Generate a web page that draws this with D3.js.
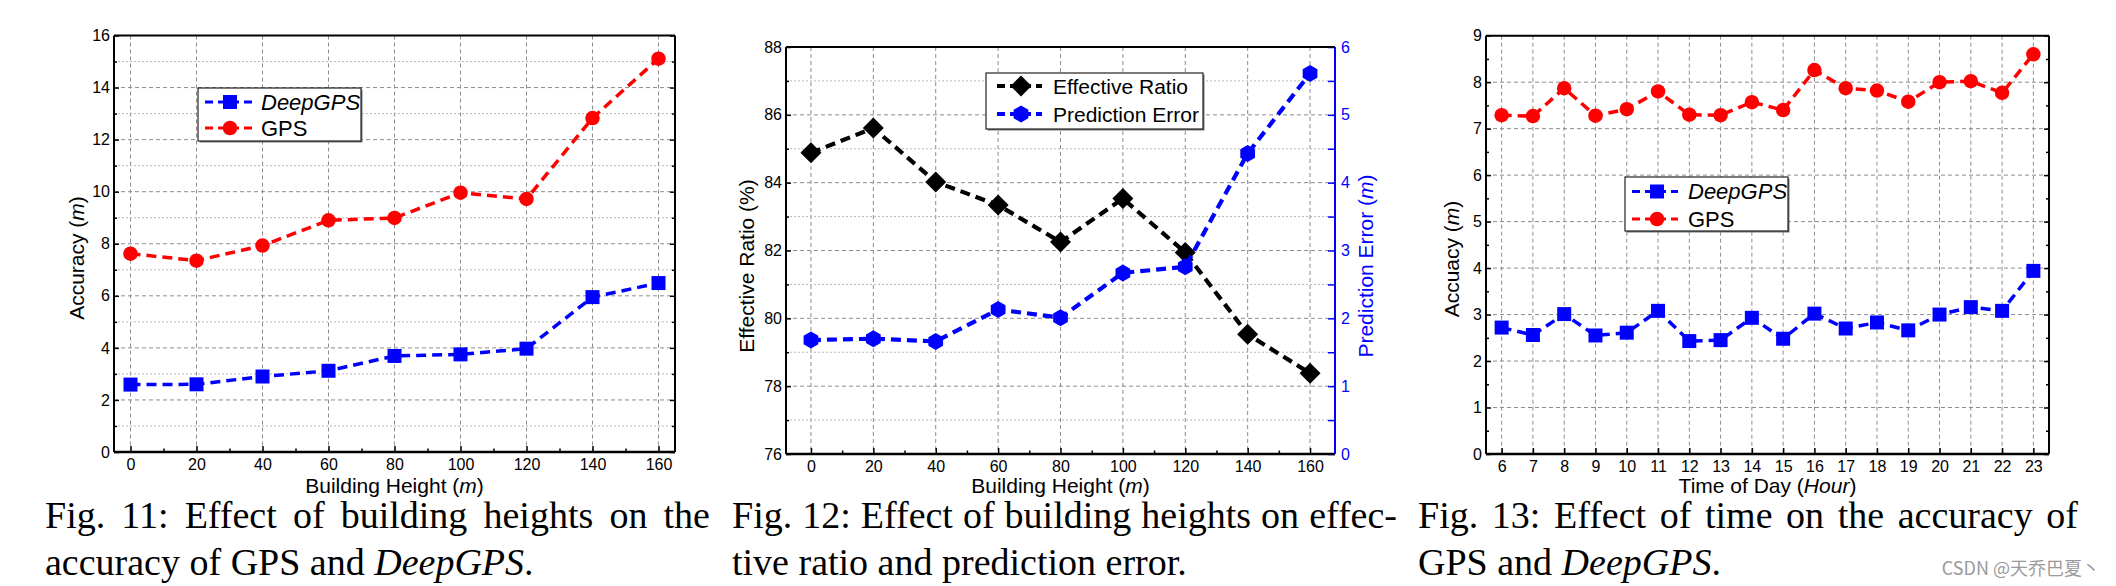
<!DOCTYPE html>
<html><head><meta charset="utf-8">
<script src="https://cdn.jsdelivr.net/npm/d3@7"></script>
<style>body{margin:0;background:#fff}</style>
</head><body>
<svg id="c" width="2116" height="586" xmlns="http://www.w3.org/2000/svg"></svg>
<script>
// ---------- data ----------
const heights = [0, 20, 40, 60, 80, 100, 120, 140, 160];
const heightMinor = [10, 30, 50, 70, 90, 110, 130, 150];
const fig11DeepGPS = [2.59, 2.60, 2.90, 3.12, 3.69, 3.75, 3.97, 5.95, 6.49];
const fig11GPS = [7.62, 7.35, 7.93, 8.90, 8.99, 9.96, 9.72, 12.83, 15.11];
const fig11YTicks = [0, 2, 4, 6, 8, 10, 12, 14, 16];
const fig11YMinor = [1, 3, 5, 7, 9, 11, 13, 15];

const fig12Ratio = [84.88, 85.61, 84.02, 83.34, 82.25, 83.53, 81.94, 79.53, 78.38];
const fig12Error = [1.68, 1.70, 1.66, 2.13, 2.01, 2.67, 2.76, 4.43, 5.61];
const fig12YTicks = [76, 78, 80, 82, 84, 86, 88];
const fig12YMinor = [77, 79, 81, 83, 85, 87];
const fig12Y2Ticks = [0, 1, 2, 3, 4, 5, 6];
const fig12Y2Minor = [0.5, 1.5, 2.5, 3.5, 4.5, 5.5];

const hours = [6, 7, 8, 9, 10, 11, 12, 13, 14, 15, 16, 17, 18, 19, 20, 21, 22, 23];
const fig13GPS = [7.29, 7.27, 7.87, 7.28, 7.42, 7.80, 7.30, 7.29, 7.57, 7.40, 8.26, 7.87, 7.82, 7.58, 8.00, 8.02, 7.77, 8.60];
const fig13DeepGPS = [2.72, 2.56, 3.01, 2.55, 2.61, 3.08, 2.43, 2.45, 2.93, 2.48, 3.02, 2.70, 2.83, 2.66, 3.00, 3.16, 3.08, 3.94];
const fig13YTicks = [0, 1, 2, 3, 4, 5, 6, 7, 8, 9];
const fig13YMinor = [0.5, 1.5, 2.5, 3.5, 4.5, 5.5, 6.5, 7.5, 8.5];

// ---------- style ----------
const SANS = "'Liberation Sans', Arial, Helvetica, sans-serif";
const SERIF = "'Liberation Serif', 'Times New Roman', Times, serif";
const BLUE = "#0000ff", RED = "#ff0000", BLACK = "#000000";
const fmt = d3.format("d");

const svg = d3.select("#c");

// marker shapes
function markerPath(type, s) {
  if (type === "square") { const h = s / 2; return `M${-h},${-h}H${h}V${h}H${-h}Z`; }
  if (type === "diamond") { const h = s / 2; return `M0,${-h}L${h},0L0,${h}L${-h},0Z`; }
  if (type === "hexagon") {
    const r = s / 2; let p = "";
    for (let i = 0; i < 6; i++) { const a = Math.PI / 180 * (60 * i - 90); p += (i ? "L" : "M") + (r * Math.cos(a)).toFixed(2) + "," + (r * Math.sin(a)).toFixed(2); }
    return p + "Z";
  }
  const r = s / 2; return `M${-r},0A${r},${r} 0 1,0 ${r},0A${r},${r} 0 1,0 ${-r},0Z`;
}
const markerSize = { square: 14, circle: 14.5, diamond: 21, hexagon: 17 };

function drawGrid(g, x, y, cfg, yTicks, yMinor) {
  const grid = g.append("g");
  grid.selectAll(".vg").data(cfg.xMajor).join("line")
    .attr("x1", d => x(d)).attr("x2", d => x(d)).attr("y1", cfg.top).attr("y2", cfg.bottom)
    .attr("stroke", "#8c8c8c").attr("stroke-width", 1).attr("stroke-dasharray", "4,3");
  grid.selectAll(".hg").data(yTicks).join("line")
    .attr("x1", cfg.left).attr("x2", cfg.right).attr("y1", d => y(d)).attr("y2", d => y(d))
    .attr("stroke", "#8c8c8c").attr("stroke-width", 1).attr("stroke-dasharray", "4,3");
  if (cfg.minorGrid) {
    grid.selectAll(".hm").data(yMinor).join("line")
      .attr("x1", cfg.left).attr("x2", cfg.right).attr("y1", d => y(d)).attr("y2", d => y(d))
      .attr("stroke", "#b8b8b8").attr("stroke-width", 1).attr("stroke-dasharray", "2,2");
  }
}

function styleAxis(sel, color, size) {
  sel.select(".domain").remove();
  sel.selectAll(".tick line").attr("stroke", color).attr("stroke-width", 1.5);
  sel.selectAll(".tick text").attr("fill", color).style("font-family", SANS).style("font-size", size + "px");
}

function drawSeries(g, x, y, xs, ys, color, marker, width) {
  const line = d3.line().x((d, i) => x(xs[i])).y(d => y(d));
  g.append("path").attr("d", line(ys)).attr("fill", "none").attr("stroke", color)
    .attr("stroke-width", width).attr("stroke-dasharray", "10,6");
  g.selectAll(null).data(ys).join("path")
    .attr("transform", (d, i) => `translate(${x(xs[i])},${y(d)})`)
    .attr("d", markerPath(marker, markerSize[marker])).attr("fill", color);
}

function drawLegend(g, box, entries) {
  g.append("rect").attr("x", box.x + 1.5).attr("y", box.y + 1.5).attr("width", box.w).attr("height", box.h).attr("fill", "#777");
  g.append("rect").attr("x", box.x).attr("y", box.y).attr("width", box.w).attr("height", box.h)
    .attr("fill", "#fff").attr("stroke", "#222").attr("stroke-width", 1.2);
  entries.forEach(e => {
    g.append("line").attr("x1", box.lx1).attr("x2", box.lx2).attr("y1", e.cy).attr("y2", e.cy)
      .attr("stroke", e.color).attr("stroke-width", box.lw).attr("stroke-dasharray", "8,5");
    g.append("path").attr("transform", `translate(${box.mx},${e.cy})`).attr("d", markerPath(e.marker, markerSize[e.marker])).attr("fill", e.color);
    g.append("text").attr("x", box.tx).attr("y", e.cy).attr("dy", "0.36em")
      .style("font-family", SANS).style("font-size", box.fs + "px").style("font-style", e.italic ? "italic" : "normal")
      .attr("fill", "#000").text(e.label);
  });
}

function axisLabelH(g, cx, y, parts) {
  const t = g.append("text").attr("x", cx).attr("y", y).attr("text-anchor", "middle")
    .style("font-family", SANS).style("font-size", "21px");
  parts.forEach(p => t.append("tspan").style("font-style", p[1] ? "italic" : "normal").text(p[0]));
}
function axisLabelV(g, cx, cy, parts, color) {
  const t = g.append("text").attr("transform", `translate(${cx},${cy}) rotate(-90)`).attr("dy", "0.35em")
    .attr("text-anchor", "middle").attr("fill", color || "#000")
    .style("font-family", SANS).style("font-size", "21px");
  parts.forEach(p => t.append("tspan").style("font-style", p[1] ? "italic" : "normal").text(p[0]));
}

function panel(cfg) {
  const g = svg.append("g");
  const x = d3.scaleLinear().domain(cfg.xDomain).range([cfg.left, cfg.right]);
  const y = d3.scaleLinear().domain(cfg.yDomain).range([cfg.bottom, cfg.top]);
  drawGrid(g, x, y, cfg, cfg.yTicks, cfg.yMinor);

  const bx = g.append("g").attr("transform", `translate(0,${cfg.bottom})`)
    .call(d3.axisBottom(x).tickValues(cfg.xMajor).tickFormat(fmt).tickSize(-6).tickSizeOuter(0).tickPadding(7));
  styleAxis(bx, "#000", 16);
  bx.selectAll(".tick text").attr("y", 7).attr("dy", "0.71em");
  if (cfg.xMinor) {
    const bm = g.append("g").attr("transform", `translate(0,${cfg.bottom})`)
      .call(d3.axisBottom(x).tickValues(cfg.xMinor).tickSize(-3.5).tickFormat(""));
    styleAxis(bm, "#000", 16);
  }
  const ly = g.append("g").attr("transform", `translate(${cfg.left},0)`)
    .call(d3.axisLeft(y).tickValues(cfg.yTicks).tickFormat(fmt).tickSize(-5).tickPadding(4));
  styleAxis(ly, "#000", 16);
  ly.selectAll(".tick text").attr("x", -4);
  const lm = g.append("g").attr("transform", `translate(${cfg.left},0)`)
    .call(d3.axisLeft(y).tickValues(cfg.yMinor).tickSize(-3).tickFormat(""));
  styleAxis(lm, "#000", 16);

  let y2 = null;
  if (cfg.y2Domain) {
    y2 = d3.scaleLinear().domain(cfg.y2Domain).range([cfg.bottom, cfg.top]);
    const ry = g.append("g").attr("transform", `translate(${cfg.right},0)`)
      .call(d3.axisRight(y2).tickValues(cfg.y2Ticks).tickFormat(fmt).tickSize(-7).tickPadding(6));
    styleAxis(ry, BLUE, 16);
    ry.selectAll(".tick text").attr("x", 6);
    const rm = g.append("g").attr("transform", `translate(${cfg.right},0)`)
      .call(d3.axisRight(y2).tickValues(cfg.y2Minor).tickSize(-7).tickFormat(""));
    styleAxis(rm, BLUE, 16);
  } else {
    const ry = g.append("g").attr("transform", `translate(${cfg.right},0)`)
      .call(d3.axisRight(y).tickValues(cfg.yTicks).tickSize(-5).tickFormat(""));
    styleAxis(ry, "#000", 16);
    const rm = g.append("g").attr("transform", `translate(${cfg.right},0)`)
      .call(d3.axisRight(y).tickValues(cfg.yMinor).tickSize(-3).tickFormat(""));
    styleAxis(rm, "#000", 16);
  }

  g.append("line").attr("x1", cfg.left).attr("x2", cfg.right).attr("y1", cfg.top).attr("y2", cfg.top).attr("stroke", "#000").attr("stroke-width", 2);
  g.append("line").attr("x1", cfg.left).attr("x2", cfg.right).attr("y1", cfg.bottom).attr("y2", cfg.bottom).attr("stroke", "#000").attr("stroke-width", 2.5);
  g.append("line").attr("x1", cfg.left).attr("x2", cfg.left).attr("y1", cfg.top).attr("y2", cfg.bottom).attr("stroke", "#000").attr("stroke-width", 2);
  g.append("line").attr("x1", cfg.right).attr("x2", cfg.right).attr("y1", cfg.top).attr("y2", cfg.bottom)
    .attr("stroke", cfg.y2Domain ? BLUE : "#000").attr("stroke-width", 2);

  cfg.series.forEach(s => drawSeries(g, x, s.axis === 2 ? y2 : y, s.xs, s.ys, s.color, s.marker, s.width));
  drawLegend(g, cfg.legend, cfg.series.map((s, i) => Object.assign({ cy: cfg.legend.rows[i] }, s)));

  axisLabelH(g, (cfg.left + cfg.right) / 2, 493, cfg.xLabel);
  axisLabelV(g, cfg.yLabelX, cfg.yLabelY, cfg.yLabel);
  if (cfg.y2Label) axisLabelV(g, cfg.y2LabelX, cfg.yLabelY, cfg.y2Label, BLUE);
}

panel({
  left: 114, right: 675, top: 35.5, bottom: 452,
  xDomain: [-5, 165], yDomain: [0, 16], xMajor: heights, xMinor: heightMinor,
  yTicks: fig11YTicks, yMinor: fig11YMinor, minorGrid: true,
  series: [
    { label: "DeepGPS", italic: true, xs: heights, ys: fig11DeepGPS, color: BLUE, marker: "square", width: 3.5 },
    { label: "GPS", italic: false, xs: heights, ys: fig11GPS, color: RED, marker: "circle", width: 3.5 }
  ],
  legend: { x: 198, y: 88, w: 163, h: 53, lx1: 205, lx2: 252, mx: 230, tx: 261, fs: 22, lw: 3, rows: [102, 128] },
  xLabel: [["Building Height ("], ["m", true], [")"]],
  yLabel: [["Accuracy ("], ["m", true], [")"]], yLabelX: 77, yLabelY: 258
});

panel({
  left: 786, right: 1335, top: 47, bottom: 454,
  xDomain: [-8, 168], yDomain: [76, 88], xMajor: heights, xMinor: heightMinor,
  yTicks: fig12YTicks, yMinor: fig12YMinor, minorGrid: true,
  y2Domain: [0, 6], y2Ticks: fig12Y2Ticks, y2Minor: fig12Y2Minor,
  series: [
    { label: "Effective Ratio", italic: false, xs: heights, ys: fig12Ratio, color: BLACK, marker: "diamond", width: 4.2, axis: 1 },
    { label: "Prediction Error", italic: false, xs: heights, ys: fig12Error, color: BLUE, marker: "hexagon", width: 4.2, axis: 2 }
  ],
  legend: { x: 986, y: 73, w: 217, h: 56, lx1: 997, lx2: 1042, mx: 1021, tx: 1053, fs: 21, lw: 4, rows: [86, 114] },
  xLabel: [["Building Height ("], ["m", true], [")"]],
  yLabel: [["Effective Ratio (%)"]], yLabelX: 747, yLabelY: 266,
  y2Label: [["Prediction Error ("], ["m", true], [")"]], y2LabelX: 1366
});

panel({
  left: 1486, right: 2049, top: 35.7, bottom: 454,
  xDomain: [5.5, 23.5], yDomain: [0, 9], xMajor: hours, xMinor: null,
  yTicks: fig13YTicks, yMinor: fig13YMinor, minorGrid: false,
  series: [
    { label: "DeepGPS", italic: true, xs: hours, ys: fig13DeepGPS, color: BLUE, marker: "square", width: 3.5 },
    { label: "GPS", italic: false, xs: hours, ys: fig13GPS, color: RED, marker: "circle", width: 3.5 }
  ],
  legend: { x: 1625, y: 177, w: 163, h: 54, lx1: 1632, lx2: 1678, mx: 1657, tx: 1688, fs: 22, lw: 3, rows: [191.5, 219] },
  xLabel: [["Time of Day ("], ["Hour", true], [")"]],
  yLabel: [["Accuacy ("], ["m", true], [")"]], yLabelX: 1452, yLabelY: 259
});

// ---------- captions ----------
const captions = [
  { x0: 45, x1: 710, line1: "Fig. 11: Effect of building heights on the", line2: [["accuracy of GPS and "], ["DeepGPS", true], ["."]] },
  { x0: 732, x1: 1397, line1: "Fig. 12: Effect of building heights on effec-", line2: [["tive ratio and prediction error."]] },
  { x0: 1418, x1: 2078, line1: "Fig. 13: Effect of time on the accuracy of", line2: [["GPS and "], ["DeepGPS", true], ["."]] }
];
const CAP_FS = 38;
captions.forEach(c => {
  const g = svg.append("g").style("font-family", SERIF).style("font-size", CAP_FS + "px").attr("fill", "#000");
  const words = c.line1.split(" ");
  const nodes = words.map(w => g.append("text").attr("y", 528).text(w));
  const widths = nodes.map(n => n.node().getComputedTextLength());
  const total = widths.reduce((a, b) => a + b, 0);
  const gap = (c.x1 - c.x0 - total) / (words.length - 1);
  let xp = c.x0;
  nodes.forEach((n, i) => { n.attr("x", xp); xp += widths[i] + gap; });
  const t2 = g.append("text").attr("x", c.x0).attr("y", 575);
  c.line2.forEach(p => t2.append("tspan").style("font-style", p[1] ? "italic" : "normal").text(p[0]));
});

svg.append("text").attr("x", 2100).attr("y", 575).attr("text-anchor", "end").attr("fill", "#9a9a9a")
  .style("font-family", "'Noto Sans CJK SC', 'Noto Sans', sans-serif").style("font-size", "18px")
  .text("CSDN @天乔巴夏丶");
</script>
</body></html>
